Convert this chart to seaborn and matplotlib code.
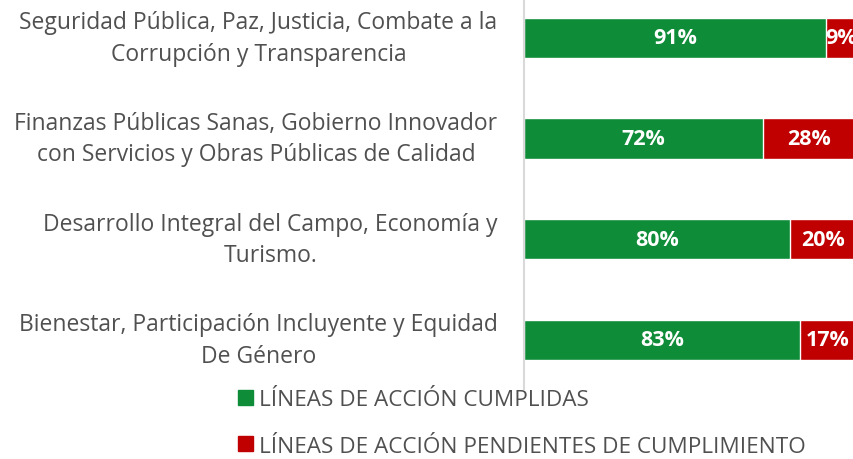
import matplotlib
matplotlib.use("Agg")
import matplotlib.pyplot as plt
import matplotlib.patches as mpatches
import seaborn as sns
import pandas as pd

# data
ejes = [
    "Seguridad Pública, Paz, Justicia, Combate a la\nCorrupción y Transparencia",
    "Finanzas Públicas Sanas, Gobierno Innovador\ncon Servicios y Obras Públicas de Calidad",
    "Desarrollo Integral del Campo, Economía y\nTurismo.",
    "Bienestar, Participación Incluyente y Equidad\nDe Género",
]
cumplidas = [91, 72, 80, 83]
pendientes = [9, 28, 20, 17]

verde = "#0E8C38"
rojo = "#C00000"
gris = "#505050"

df = pd.DataFrame({"eje": ejes, "cumplidas": cumplidas, "pendientes": pendientes})
df["total"] = df["cumplidas"] + df["pendientes"]

sns.set_style("white")
plt.rcParams["font.family"] = ["Open Sans", "DejaVu Sans"]

fig = plt.figure(figsize=(8.54, 4.6), dpi=100)
ax = fig.add_axes([524 / 854, 1 - 390 / 460, 1 - 524 / 854, 390 / 460])

# stacked: full bar in red, green part on top
sns.barplot(data=df, y="eje", x="total", color=rojo, orient="h", width=0.4,
            saturation=1, ax=ax)
sns.barplot(data=df, y="eje", x="cumplidas", color=verde, orient="h", width=0.4,
            saturation=1, ax=ax)

for i, (c, p) in enumerate(zip(cumplidas, pendientes)):
    ax.text(c / 2, i, f"{c}%", ha="center", va="center", color="white",
            fontsize=15.5, fontweight="bold")
    ax.text(c + p / 2, i, f"{p}%", ha="center", va="center", color="white",
            fontsize=15.5, fontweight="bold", clip_on=True)

ax.set_xlim(0, 99.4)
ax.set_ylim(3.487, -0.387)
ax.set_xlabel("")
ax.set_ylabel("")
ax.set_xticks([])
ax.tick_params(axis="y", length=0, pad=19, labelsize=16.5, labelcolor=gris)
for lbl in ax.get_yticklabels():
    lbl.set_multialignment("center")
    lbl.set_linespacing(1.4)
    lbl.set_verticalalignment("center")

for s in ["top", "right", "bottom"]:
    ax.spines[s].set_visible(False)
ax.spines["left"].set_color("#d9d9d9")
ax.spines["left"].set_linewidth(1.5)

handles = [
    mpatches.Patch(color=verde, label="LÍNEAS DE ACCIÓN CUMPLIDAS"),
    mpatches.Patch(color=rojo, label="LÍNEAS DE ACCIÓN PENDIENTES DE CUMPLIMIENTO"),
]
leg = fig.legend(handles=handles, loc="upper left", bbox_to_anchor=(238 / 854, 1 - 390 / 460),
                 frameon=False, ncol=1, fontsize=16.2, handlelength=0.65,
                 handleheight=0.65, handletextpad=0.3, labelspacing=1.15,
                 borderaxespad=0, borderpad=0)
for t in leg.get_texts():
    t.set_color(gris)

fig.savefig("out.png", dpi=100, facecolor="white")
